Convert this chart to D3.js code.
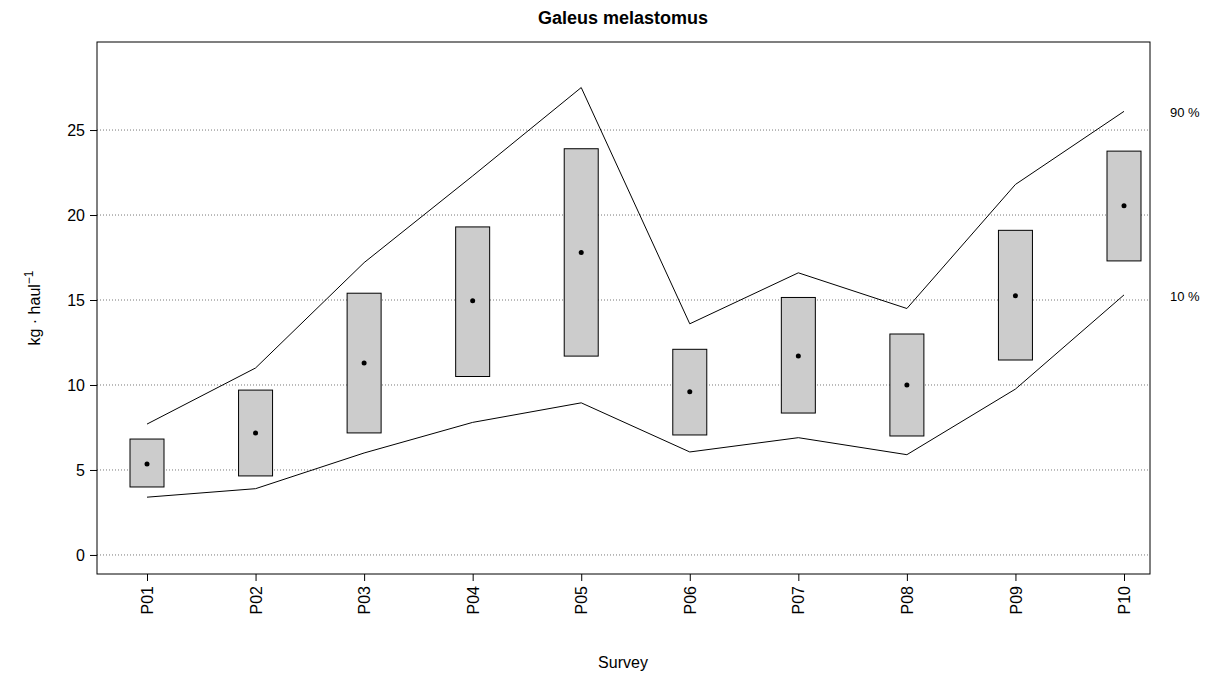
<!DOCTYPE html><html><head><meta charset="utf-8">
<script src="https://cdn.jsdelivr.net/npm/d3@7"></script>
<style>body{margin:0;background:#fff}text{font-family:"Liberation Sans",Arial,sans-serif}</style></head><body>
<svg id="c" width="1215" height="679"></svg>
<script>
const surveys=["P01","P02","P03","P04","P05","P06","P07","P08","P09","P10"];
const boxLow=[4.0,4.65,7.18,10.5,11.7,7.06,8.35,7.0,11.47,17.3];
const boxHigh=[6.82,9.7,15.4,19.3,23.9,12.1,15.15,13.0,19.1,23.76];
const means=[5.35,7.18,11.3,14.95,17.8,9.6,11.7,10.0,15.25,20.55];
const q90=[7.7,11.0,17.2,22.3,27.5,13.6,16.6,14.5,21.8,26.1];
const q10=[3.4,3.9,6.0,7.8,8.95,6.06,6.9,5.9,9.76,15.3];
const yTicks=[0,5,10,15,20,25];
const svg=d3.select("#c");
const L=97,R=1150,T=42,B=574;
const x=d3.scalePoint().domain(surveys).range([147,1124]);
const y=d3.scaleLinear().domain([-1.12,30.18]).range([B,T]);
svg.append("g").selectAll("line").data(yTicks).join("line").attr("x1",L).attr("x2",R)
 .attr("y1",d=>y(d)).attr("y2",d=>y(d)).attr("stroke","#777").attr("stroke-dasharray","1,2");
const line=d3.line().x((d,i)=>x(surveys[i])).y(d=>y(d));
[q90,q10].forEach(a=>svg.append("path").attr("d",line(a)).attr("fill","none").attr("stroke","#000"));
svg.append("g").selectAll("rect").data(surveys).join("rect").attr("x",d=>x(d)-17).attr("width",34)
 .attr("y",(d,i)=>y(boxHigh[i])).attr("height",(d,i)=>y(boxLow[i])-y(boxHigh[i])).attr("fill","#cccccc").attr("stroke","#000");
svg.append("g").selectAll("circle").data(surveys).join("circle").attr("cx",d=>x(d)).attr("cy",(d,i)=>y(means[i])).attr("r",2.5);
svg.append("rect").attr("x",L).attr("y",T).attr("width",R-L).attr("height",B-T).attr("fill","none").attr("stroke","#000");
const ya=svg.append("g").attr("transform",`translate(${L},0)`).call(d3.axisLeft(y).tickValues(yTicks).tickSize(7).tickSizeOuter(0));
ya.select(".domain").remove();
ya.selectAll("text").attr("font-size",16).attr("fill","#000").attr("x",-12);
const xa=svg.append("g").attr("transform",`translate(0,${B})`).call(d3.axisBottom(x).tickSize(7).tickSizeOuter(0));
xa.select(".domain").remove();
xa.selectAll("text").attr("font-size",16).attr("fill","#000").attr("transform","rotate(-90)").attr("text-anchor","end").attr("x",-12).attr("y",0).attr("dy","0.35em");
svg.append("text").attr("x",623).attr("y",24).attr("text-anchor","middle").attr("font-weight","bold").attr("font-size",18).text("Galeus melastomus");
svg.append("text").attr("x",623).attr("y",668).attr("text-anchor","middle").attr("font-size",16).text("Survey");
const yl=svg.append("text").attr("transform",`translate(40,${(T+B)/2}) rotate(-90)`).attr("text-anchor","middle").attr("font-size",16);
yl.append("tspan").text("kg · haul");yl.append("tspan").attr("dy",-7).attr("font-size",12).text("−1");
svg.append("text").attr("x",1170).attr("y",117).attr("font-size",13).text("90 %");
svg.append("text").attr("x",1170).attr("y",301).attr("font-size",13).text("10 %");
</script></body></html>
